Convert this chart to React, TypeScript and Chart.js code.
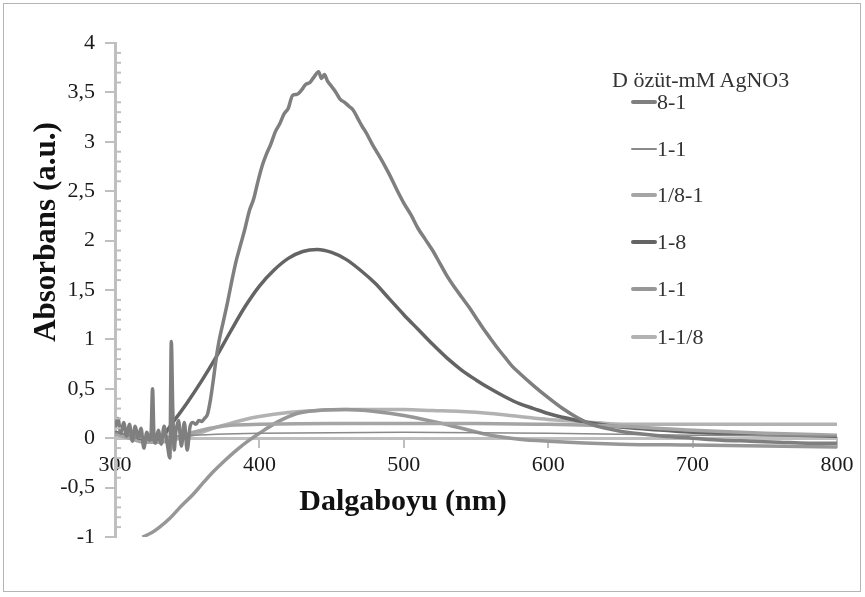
import React, { useEffect, useRef } from "react";
import { Chart, registerables } from "chart.js";

Chart.register(...registerables);

const FONT = '"Liberation Serif", "Times New Roman", serif';
const AXIS = "#bfbfbf";

// Tick labels
const xTickValues = [300, 400, 500, 600, 700, 800];
const yTickValues = [-1, -0.5, 0, 0.5, 1, 1.5, 2, 2.5, 3, 3.5, 4];

const legendTitle = "D özüt-mM AgNO3";
const seriesNames = ["8-1", "1-1", "1/8-1", "1-8", "1-1", "1-1/8"];

// 8-1
const s81X = [300, 302, 304, 306, 308, 310, 312, 314, 316, 318, 320, 322, 324, 325, 326, 327, 328, 330, 332, 334, 336, 338, 339, 340, 341, 342, 344, 346, 348, 350, 352, 354, 356, 358, 360, 362, 364, 366, 368, 370, 372, 375, 378, 381, 384, 387, 390, 393, 396, 399, 402, 405, 408, 411, 414, 417, 420, 423, 426, 429, 432, 435, 438, 441, 443, 445, 447, 450, 453, 456, 459, 462, 465, 468, 471, 474, 478, 482, 486, 490, 495, 500, 505, 510, 515, 520, 525, 530, 535, 540, 545, 550, 555, 560, 565, 570, 575, 580, 590, 600, 610, 620, 630, 640, 650, 660, 680, 700, 720, 740, 760, 780, 800];
const s81Y = [0.10, 0.20, 0.05, 0.16, 0.02, 0.14, -0.03, 0.12, 0.00, 0.10, -0.10, 0.06, -0.02, 0.05, 0.50, 0.02, -0.05, 0.08, -0.06, 0.12, -0.04, -0.20, 0.98, 0.30, -0.12, 0.05, 0.18, -0.08, 0.16, -0.12, 0.12, 0.16, 0.14, 0.18, 0.17, 0.20, 0.24, 0.38, 0.58, 0.80, 0.98, 1.18, 1.38, 1.60, 1.80, 1.96, 2.12, 2.30, 2.42, 2.60, 2.76, 2.88, 2.98, 3.10, 3.18, 3.28, 3.34, 3.47, 3.48, 3.52, 3.58, 3.60, 3.66, 3.71, 3.64, 3.68, 3.62, 3.56, 3.50, 3.43, 3.40, 3.36, 3.32, 3.24, 3.16, 3.09, 2.98, 2.88, 2.78, 2.67, 2.52, 2.38, 2.26, 2.12, 2.01, 1.90, 1.77, 1.64, 1.53, 1.43, 1.33, 1.22, 1.11, 1.01, 0.91, 0.82, 0.73, 0.66, 0.53, 0.41, 0.30, 0.21, 0.14, 0.10, 0.07, 0.05, 0.02, 0.00, -0.02, -0.03, -0.04, -0.05, -0.05];

// 1-1 (thin)
const s11aX = [300, 310, 320, 340, 370, 400, 500, 600, 700, 800];
const s11aY = [0.06, 0.03, 0.01, 0.02, 0.04, 0.05, 0.06, 0.05, 0.03, 0.02];

// 1/8-1
const s181X = [300, 310, 320, 330, 340, 350, 360, 370, 380, 400, 450, 500, 550, 600, 650, 700, 750, 800];
const s181Y = [0.04, 0.00, -0.04, -0.04, -0.01, 0.04, 0.08, 0.11, 0.13, 0.14, 0.15, 0.15, 0.15, 0.14, 0.12, 0.08, 0.05, 0.03];

// 1-8
const s18X = [300, 310, 320, 330, 340, 350, 360, 370, 380, 390, 400, 410, 420, 430, 440, 450, 460, 470, 480, 490, 500, 510, 520, 530, 540, 550, 560, 570, 580, 590, 600, 620, 640, 660, 680, 700, 740, 800];
const s18Y = [0.06, 0.01, -0.03, -0.02, 0.16, 0.36, 0.58, 0.82, 1.08, 1.33, 1.54, 1.70, 1.82, 1.89, 1.91, 1.88, 1.81, 1.70, 1.57, 1.41, 1.25, 1.10, 0.95, 0.81, 0.69, 0.59, 0.50, 0.42, 0.35, 0.30, 0.25, 0.18, 0.13, 0.10, 0.08, 0.06, 0.04, 0.02];

// 1-1 (second)
const s11bX = [319, 325, 330, 338, 345, 354, 360, 368, 375, 385, 393, 400, 412, 426, 440, 460, 480, 500, 520, 540, 560, 580, 600, 650, 700, 750, 800];
const s11bY = [-1.0, -0.96, -0.91, -0.81, -0.70, -0.57, -0.47, -0.34, -0.24, -0.11, -0.02, 0.05, 0.16, 0.25, 0.28, 0.29, 0.27, 0.23, 0.17, 0.10, 0.03, -0.01, -0.03, -0.06, -0.07, -0.08, -0.09];

// 1-1/8
const s118X = [300, 310, 320, 330, 340, 350, 360, 370, 380, 390, 400, 420, 440, 460, 480, 500, 520, 540, 560, 580, 600, 620, 640, 660, 700, 750, 800];
const s118Y = [0.06, 0.02, -0.03, -0.04, -0.02, 0.02, 0.06, 0.11, 0.15, 0.19, 0.22, 0.26, 0.28, 0.29, 0.29, 0.29, 0.28, 0.27, 0.25, 0.22, 0.19, 0.17, 0.15, 0.14, 0.14, 0.14, 0.14];

const colors = ["#7f7f7f", "#8a8a8a", "#a5a5a5", "#646464", "#979797", "#b2b2b2"];
const widths = [3.5, 1.5, 3.5, 3.5, 3.5, 3.5];

const zip = (xs: number[], ys: number[]) => xs.map((x, i) => ({ x, y: ys[i] }));

const minorTicks = {
  id: "minorTicks",
  afterDraw(chart: any) {
    const y = chart.scales.y;
    const ctx = chart.ctx;
    const x0 = chart.chartArea.left;
    ctx.save();
    ctx.strokeStyle = AXIS;
    ctx.lineWidth = 2;
    for (let i = -10; i <= 40; i++) {
      if (i % 5 === 0) continue;
      const py = y.getPixelForValue(i / 10);
      ctx.beginPath();
      ctx.moveTo(x0, py);
      ctx.lineTo(x0 + 6, py);
      ctx.stroke();
    }
    ctx.restore();
  },
};

export default function App() {
  const ref = useRef<HTMLCanvasElement | null>(null);

  useEffect(() => {
    document.body.style.margin = "0";
    const canvas = ref.current;
    if (!canvas) return;
    const sets = [
      zip(s81X, s81Y),
      zip(s11aX, s11aY),
      zip(s181X, s181Y),
      zip(s18X, s18Y),
      zip(s11bX, s11bY),
      zip(s118X, s118Y),
    ];
    const chart = new Chart(canvas, {
      type: "line",
      data: {
        datasets: sets.map((d, i) => ({
          label: seriesNames[i],
          data: d,
          borderColor: colors[i],
          backgroundColor: colors[i],
          borderWidth: widths[i],
          pointRadius: 0,
          fill: false,
          cubicInterpolationMode: "monotone" as const,
        })),
      },
      options: {
        animation: false,
        responsive: false,
        layout: { padding: { top: 43, right: 28, bottom: 60, left: 0 } },
        plugins: { legend: { display: false }, tooltip: { enabled: false } },
        scales: {
          x: {
            type: "linear",
            position: { y: 0 } as any,
            min: 300,
            max: 800,
            afterBuildTicks: (s: any) => {
              s.ticks = xTickValues.map((v) => ({ value: v }));
            },
            ticks: {
              font: { family: FONT, size: 22 },
              color: "#1a1a1a",
              padding: 6,
              maxRotation: 0,
            },
            grid: {
              drawOnChartArea: false,
              drawTicks: true,
              tickLength: 8,
              color: AXIS,
              lineWidth: 2,
            },
            border: { display: true, color: AXIS, width: 3, dash: [4, 3] },
          },
          y: {
            type: "linear",
            min: -1,
            max: 4,
            afterBuildTicks: (s: any) => {
              s.ticks = yTickValues.map((v) => ({ value: v }));
            },
            afterFit: (s: any) => {
              s.width = 115;
            },
            ticks: {
              font: { family: FONT, size: 22 },
              color: "#1a1a1a",
              padding: 10,
              callback: (v: any) => String(v).replace(".", ","),
            },
            grid: {
              drawOnChartArea: false,
              drawTicks: true,
              tickLength: 10,
              color: AXIS,
              lineWidth: 2,
            },
            border: { display: true, color: AXIS, width: 3 },
          },
        },
      },
      plugins: [minorTicks],
    });
    return () => chart.destroy();
  }, []);

  const legendYs = [102, 149, 195, 242, 289, 337];

  return (
    <div style={{ position: "relative", width: 865, height: 597, fontFamily: FONT, background: "#fff" }}>
      <canvas ref={ref} width={865} height={597} style={{ position: "absolute", left: 0, top: 0, width: 865, height: 597 }} />
      <div
        style={{
          position: "absolute",
          left: 3,
          top: 3,
          width: 858,
          height: 589,
          boxSizing: "border-box",
          border: "1px solid #b5b5b5",
          pointerEvents: "none",
        }}
      />
      <div
        style={{
          position: "absolute",
          left: 45,
          top: 232,
          transform: "translate(-50%, -50%) rotate(-90deg)",
          whiteSpace: "nowrap",
          fontWeight: "bold",
          fontSize: 31,
          color: "#111",
          lineHeight: "34px",
        }}
      >
        Absorbans (a.u.)
      </div>
      <div
        style={{
          position: "absolute",
          left: 403,
          top: 500,
          transform: "translate(-50%, -50%)",
          whiteSpace: "nowrap",
          fontWeight: "bold",
          fontSize: 30,
          color: "#111",
          lineHeight: "34px",
        }}
      >
        Dalgaboyu (nm)
      </div>
      <div
        style={{
          position: "absolute",
          left: 612,
          top: 80,
          transform: "translateY(-50%)",
          whiteSpace: "nowrap",
          fontSize: 22,
          color: "#333",
          lineHeight: "24px",
        }}
      >
        {legendTitle}
      </div>
      {seriesNames.map((name, i) => (
        <React.Fragment key={i}>
          <div
            style={{
              position: "absolute",
              left: 631,
              top: legendYs[i] - widths[i] / 2,
              width: 26,
              height: widths[i],
              background: colors[i],
              borderRadius: 2,
            }}
          />
          <div
            style={{
              position: "absolute",
              left: 657,
              top: legendYs[i],
              transform: "translateY(-50%)",
              whiteSpace: "nowrap",
              fontSize: 22,
              color: "#333",
              lineHeight: "24px",
            }}
          >
            {name}
          </div>
        </React.Fragment>
      ))}
    </div>
  );
}
